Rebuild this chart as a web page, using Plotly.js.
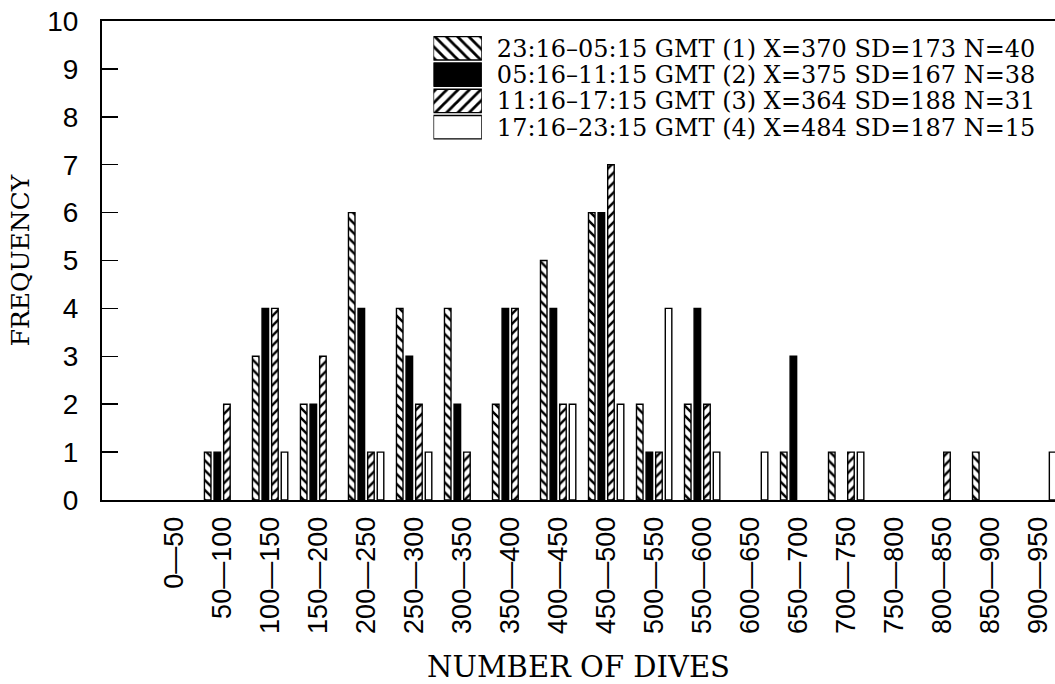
<!DOCTYPE html>
<html>
<head>
<meta charset="utf-8">
<script src="https://cdn.plot.ly/plotly-3.0.1.min.js"></script>
<style>
html,body{margin:0;padding:0;background:#fff;overflow:hidden;}
#chart{width:1055px;height:684px;}
</style>
</head>
<body>
<div id="chart"></div>
<script>
// Dive-count bins (x categories)
const categories = ['0—50','50—100','100—150','150—200','200—250','250—300','300—350',
  '350—400','400—450','450—500','500—550','550—600','600—650','650—700','700—750',
  '750—800','800—850','850—900','900—950'];

// Frequencies per time block
const period1 = [0,1,3,2,6,4,4,2,5,6,2,2,0,1,1,0,0,1,0]; // 23:16–05:15 GMT
const period2 = [0,1,4,2,4,3,2,4,4,6,1,4,0,3,0,0,0,0,0]; // 05:16–11:15 GMT
const period3 = [0,2,4,3,1,2,1,4,2,7,1,2,0,0,1,0,1,0,0]; // 11:16–17:15 GMT
const period4 = [0,0,1,0,1,1,0,0,2,2,4,1,1,0,1,0,0,0,1]; // 17:16–23:15 GMT

const seriesNames = [
  '23:16–05:15 GMT (1) X=370 SD=173 N=40',
  '05:16–11:15 GMT (2) X=375 SD=167 N=38',
  '11:16–17:15 GMT (3) X=364 SD=188 N=31',
  '17:16–23:15 GMT (4) X=484 SD=187 N=15'
];

const yTicks = [0,1,2,3,4,5,6,7,8,9,10];

// styles
const fills = ['white','black','white','white'];
const hatches = ['\\','','/',''];
const seriesValues = [period1, period2, period3, period4];

function markerFor(i, size) {
  const m = {color: fills[i], line: {color: 'black', width: 1.4}};
  if (hatches[i]) {
    m.pattern = {shape: hatches[i], fgcolor: 'black', bgcolor: 'white', size: size, solidity: 0.35};
  }
  return m;
}

const traces = seriesValues.map((vals, i) => ({
  type: 'bar',
  x: categories,
  y: vals.map(v => (v === 0 ? null : v)),
  name: seriesNames[i],
  xaxis: 'x', yaxis: 'y',
  marker: markerFor(i, 7),
  hoverinfo: 'skip',
  showlegend: false
}));

// Legend drawn as a small bar panel (one bar per series)
seriesNames.forEach((nm, i) => {
  traces.push({
    type: 'bar',
    orientation: 'h',
    x: [1],
    y: [nm],
    xaxis: 'x3', yaxis: 'y3',
    offsetgroup: 'legend',
    width: 0.89,
    marker: markerFor(i, 8),
    hoverinfo: 'skip',
    showlegend: false
  });
});

const n = categories.length;
const boundaries = [];
for (let i = -1; i <= n; i++) boundaries.push(i - 0.5);
const xRange = [-1.502, n - 0.65];

const layout = {
  width: 1055, height: 684,
  margin: {l: 102, r: 0, t: 21, b: 184, pad: 0},
  paper_bgcolor: 'white', plot_bgcolor: 'white',
  showlegend: false,
  barmode: 'group',
  bargap: 0.2,
  bargroupgap: 0.32,
  font: {family: 'Liberation Sans, Arial, sans-serif', color: 'black'},
  xaxis: {
    type: 'category',
    range: xRange,
    ticks: '',
    tickangle: -90,
    tickfont: {family: 'Liberation Sans, Arial, sans-serif', size: 27, color: 'black'},
    ticklabelstandoff: 4,
    showline: true, linecolor: 'black', linewidth: 2,
    mirror: true,
    showgrid: false, zeroline: false,
    fixedrange: true,
    title: {text: 'NUMBER OF DIVES', font: {family: 'DejaVu Serif, serif', size: 29, color: 'black'}, standoff: 32}
  },
  xaxis2: {
    overlaying: 'x', anchor: 'y',
    type: 'linear',
    range: xRange,
    tickmode: 'array',
    tickvals: boundaries,
    ticks: 'outside', ticklen: 15, tickwidth: 1.5, tickcolor: 'black',
    showticklabels: false,
    showline: false, showgrid: false, zeroline: false,
    fixedrange: true
  },
  yaxis: {
    range: [0, 10],
    tickmode: 'array',
    tickvals: yTicks,
    ticks: 'inside', ticklen: 16, tickwidth: 1.5, tickcolor: 'black',
    tickfont: {family: 'Liberation Sans, Arial, sans-serif', size: 28, color: 'black'},
    ticklabelstandoff: 16,
    showline: true, linecolor: 'black', linewidth: 2,
    showgrid: false, zeroline: false,
    fixedrange: true,
    title: {text: 'FREQUENCY', font: {family: 'DejaVu Serif, serif', size: 25, color: 'black'}, standoff: 10}
  },
  xaxis3: {
    domain: [0.3478, 0.3986], anchor: 'y3',
    range: [0, 1], visible: false, fixedrange: true
  },
  yaxis3: {
    domain: [0.7509, 0.9704], anchor: 'x3',
    type: 'category', autorange: 'reversed',
    tickmode: 'array', tickvals: seriesNames, ticktext: seriesNames,
    side: 'right',
    ticks: '', showline: false, showgrid: false, zeroline: false,
    tickfont: {family: 'DejaVu Serif, serif', size: 24, color: 'black'},
    ticklabelstandoff: 14,
    fixedrange: true
  }
};

Plotly.newPlot('chart', traces, layout, {displayModeBar: false, staticPlot: true});
</script>
</body>
</html>
